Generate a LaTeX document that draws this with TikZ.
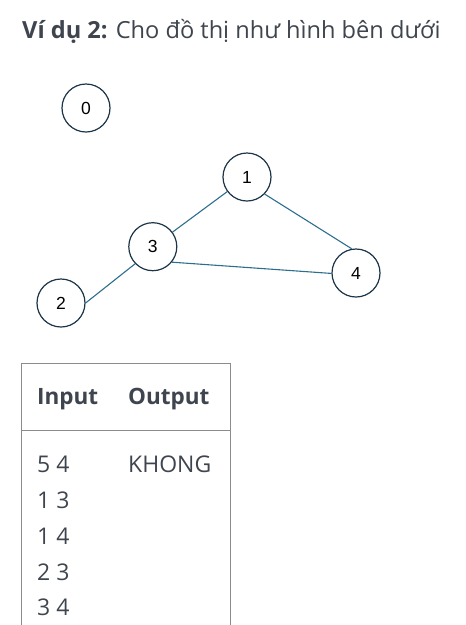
\documentclass[tikz,border=0pt]{standalone}
\usepackage{fontspec}
\setmainfont{Open Sans}
\newfontfamily\nodefont{Liberation Sans}
\usetikzlibrary{positioning}
\definecolor{titlegray}{HTML}{3F454E}
\definecolor{tablegray}{HTML}{3F454E}
\definecolor{bordergray}{HTML}{8C8C8C}
\definecolor{edgeblue}{HTML}{2C6E8F}
\definecolor{vertexblue}{HTML}{1B3447}

\begin{document}
\begin{tikzpicture}[x=1pt, y=1pt]
    \tikzset{
        vertex/.style = {circle, draw=vertexblue, line width=1.2pt, minimum size=48pt, inner sep=0pt,
                         text=black, font=\nodefont\fontsize{17.5}{17.5}\selectfont},
        edge/.style = {draw=edgeblue, line width=1.1pt},
        cell/.style = {anchor=base west, inner sep=0pt, text=tablegray, font=\fontsize{23}{23}\selectfont},
        head/.style = {cell, font=\bfseries\fontsize{22.5}{22.5}\selectfont},
        rule/.style = {draw=bordergray, line width=1pt}
    }
    \useasboundingbox (0,0) rectangle (466,-625);

    \node (title) [anchor=base west, inner sep=0pt, text=titlegray, font=\fontsize{23.6}{23.6}\selectfont]
        at (22,-38) {\textbf{Ví dụ 2:} Cho đồ thị như hình bên dưới};

    \node (v0) [vertex] at (86,-108) {0};
    \node (v1) [vertex] at (247,-177) {1};
    \node (v3) [vertex] at (152.8,-246.7) {3};
    \node (v4) [vertex] at (356,-273) {4};
    \node (v2) [vertex] at (61,-303) {2};
    \draw [edge] (v3) -- (v1);
    \draw [edge] (v1.-44) -- (v4.100);
    \draw [edge] (v2.east) -- (v3.224);
    \draw [edge] (v3.-39) -- (v4.181);

    \coordinate (tl) at (21.7,-363);
    \coordinate (tr) at (230,-363);
    \coordinate (ml) at (21.7,-430);
    \coordinate (mr) at (230,-430);
    \coordinate (bl) at (21.7,-625);
    \coordinate (br) at (230,-625);
    \draw [rule] (bl) -- (tl) -- (tr) -- (br);
    \draw [rule] (ml) -- (mr);

    \node (input) [head] at (37,-404) {Input};
    \node (output) [head] at (128,-404) {Output};
    \node (row1) [cell] at (37,-472.7) {5 4};
    \node (row2) [cell] at ([yshift=-35.8pt]row1.base west) {1 3};
    \node (row3) [cell] at ([yshift=-35.8pt]row2.base west) {1 4};
    \node (row4) [cell] at ([yshift=-35.8pt]row3.base west) {2 3};
    \node (row5) [cell] at ([yshift=-35.8pt]row4.base west) {3 4};
    \node (answer) [cell] at (output.base west |- row1.base) {KHONG};
\end{tikzpicture}
\end{document}
